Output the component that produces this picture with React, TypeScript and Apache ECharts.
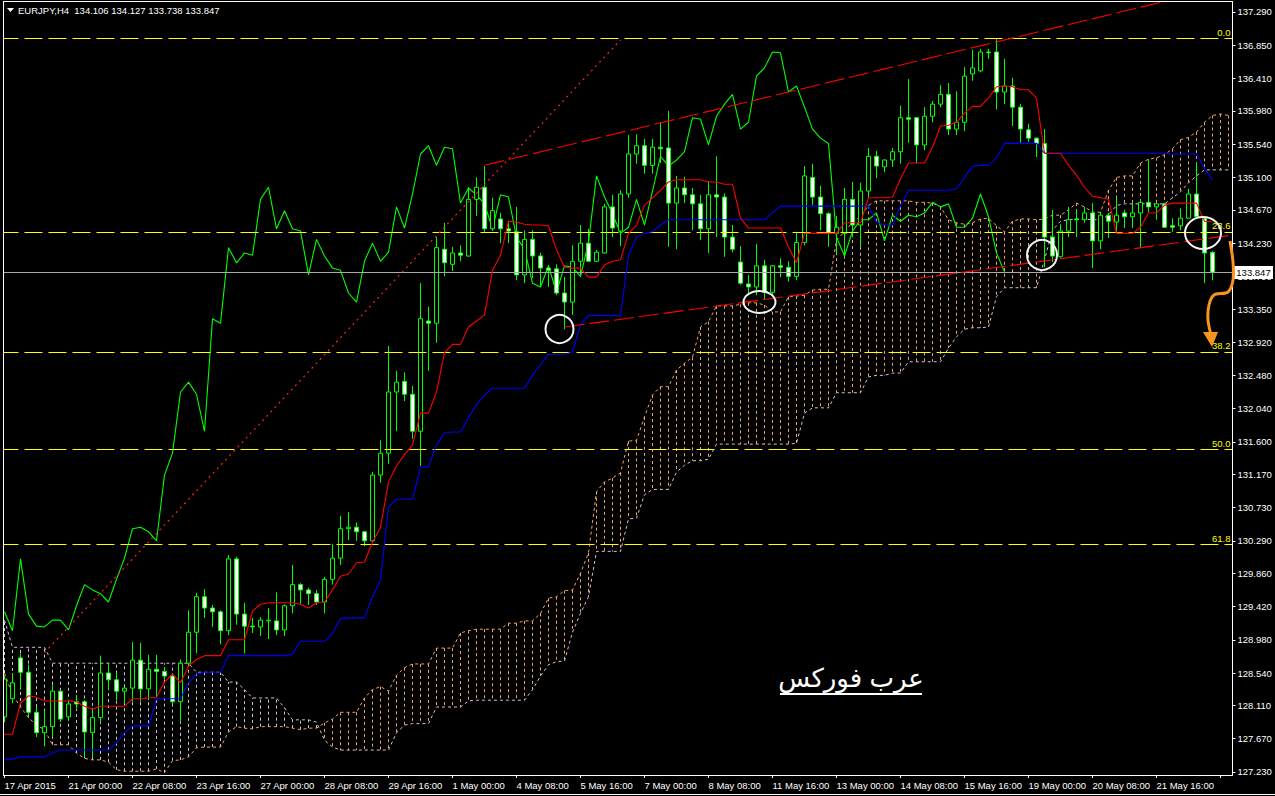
import React, { useEffect, useRef } from "react";
import * as echarts from "echarts";

const tickLabels = ["17 Apr 2015","21 Apr 00:00","22 Apr 08:00","23 Apr 16:00","27 Apr 00:00","28 Apr 08:00","29 Apr 16:00","1 May 00:00","4 May 08:00","5 May 16:00","7 May 00:00","8 May 08:00","11 May 16:00","13 May 00:00","14 May 08:00","15 May 16:00","19 May 00:00","20 May 08:00","21 May 16:00"];
const priceTicks = [137.29,136.85,136.41,135.98,135.54,135.10,134.67,134.23,133.79,133.35,132.92,132.48,132.04,131.60,131.17,130.73,130.29,129.86,129.42,128.98,128.54,128.11,127.67,127.23];

const opens = [127.96,128.20,128.74,128.55,128.02,127.75,127.83,128.30,127.96,128.16,128.16,127.75,127.95,128.54,128.45,128.30,128.34,128.71,128.33,128.59,128.56,128.50,128.16,128.67,129.08,129.55,129.40,129.35,129.10,130.05,129.32,129.16,129.15,129.23,129.23,129.11,129.43,129.71,129.64,129.59,129.48,129.78,130.06,130.45,130.47,130.41,130.29,131.16,131.45,132.26,132.40,132.23,131.74,133.20,133.17,134.15,133.95,134.10,134.06,134.81,134.97,134.42,134.55,134.42,134.38,133.81,134.28,134.06,133.90,133.89,133.57,133.45,133.99,134.23,133.99,134.10,134.71,134.39,134.88,135.41,135.52,135.26,135.50,135.49,134.76,134.96,134.87,134.75,134.42,134.87,134.84,134.31,133.98,133.69,133.65,133.93,133.58,133.93,133.91,133.79,134.24,135.10,134.84,134.62,134.36,134.36,134.81,134.47,134.92,135.38,135.24,135.33,135.44,135.89,135.89,135.53,135.91,136.07,136.20,135.74,135.83,136.47,136.51,136.76,136.76,136.23,136.31,136.03,135.73,135.62,135.55,134.31,134.05,134.39,134.55,134.54,134.63,134.26,134.60,134.51,134.63,134.58,134.63,134.77,134.71,134.75,134.46,134.46,134.56,134.88,134.56,134.106];
const closes = [128.46,128.41,128.55,128.02,127.75,127.83,128.30,127.93,128.13,128.13,127.76,127.95,128.54,128.45,128.30,128.34,128.71,128.33,128.59,128.56,128.50,128.16,128.67,129.08,129.55,129.40,129.35,129.10,130.05,129.32,129.16,129.15,129.24,129.24,129.11,129.43,129.71,129.64,129.59,129.48,129.78,130.06,130.45,130.47,130.41,130.29,131.16,131.45,132.26,132.39,132.23,131.74,133.23,133.17,134.17,133.97,134.10,134.07,134.81,134.97,134.42,134.66,134.42,134.39,133.81,134.28,134.06,133.90,133.87,133.57,133.45,133.99,134.23,133.99,134.11,134.71,134.43,134.88,135.41,135.52,135.26,135.50,135.48,134.76,134.96,134.87,134.75,134.42,134.87,134.84,134.31,134.15,133.70,133.65,133.93,133.58,133.93,133.91,133.79,134.24,135.12,134.84,134.62,134.36,134.44,134.81,134.47,134.92,135.38,135.25,135.33,135.44,135.89,135.87,135.53,135.91,136.07,136.20,135.74,135.83,136.44,136.55,136.76,136.75,136.23,136.31,136.03,135.74,135.62,135.55,134.31,134.06,134.39,134.54,134.54,134.63,134.26,134.60,134.52,134.60,134.58,134.63,134.77,134.71,134.75,134.44,134.44,134.56,134.88,134.58,134.10,133.847];
const lows = [127.89,128.14,128.32,127.96,127.69,127.57,127.69,127.89,127.92,128.05,127.43,127.43,127.88,128.32,128.18,128.14,128.16,128.16,128.18,128.22,128.45,128.12,127.89,128.65,128.80,129.27,129.15,128.92,129.04,129.18,128.80,129.07,129.03,128.99,129.04,129.03,129.33,129.45,129.44,129.44,129.33,129.71,129.97,130.30,130.29,130.22,130.27,131.06,131.31,131.74,132.14,131.64,131.28,132.54,132.91,133.79,133.86,133.99,134.05,134.59,134.38,134.39,134.23,134.23,133.74,133.70,133.77,133.65,133.65,133.54,133.09,133.28,133.78,133.98,133.98,134.09,134.31,134.19,134.83,135.28,135.15,135.15,135.29,134.18,134.15,134.76,134.40,134.27,134.10,134.31,134.05,134.11,133.68,133.54,133.54,133.48,133.52,133.78,133.72,133.74,134.20,134.73,134.40,134.18,134.09,134.05,134.31,134.18,134.83,135.09,135.17,135.24,135.28,135.56,135.29,135.46,135.83,136.03,135.66,135.66,135.71,136.38,136.49,136.67,136.00,136.07,135.78,135.56,135.57,135.37,133.91,133.98,134.04,134.31,134.31,134.50,133.90,134.15,134.30,134.36,134.43,134.43,134.17,134.64,134.54,134.43,134.38,134.40,134.56,134.56,133.70,133.738];
const highs = [128.51,128.54,128.80,128.65,128.09,128.05,128.39,128.31,128.18,128.25,128.18,128.08,128.77,128.67,128.55,128.36,128.95,128.94,128.78,128.78,128.62,128.54,128.72,129.37,129.60,129.65,129.44,129.37,130.10,130.08,129.47,129.27,129.28,129.40,129.61,129.45,129.97,129.73,129.67,129.64,129.81,130.25,130.62,130.67,130.53,130.42,131.20,131.62,132.87,132.54,132.52,132.34,133.70,133.39,134.31,134.50,134.18,134.20,134.97,135.10,135.25,134.83,134.63,134.51,134.71,134.40,134.40,134.10,133.94,133.95,133.78,134.20,134.47,134.42,134.14,134.75,134.87,134.93,135.66,135.67,135.61,135.61,135.83,135.98,135.12,135.11,134.96,134.87,135.05,135.38,134.89,134.47,134.19,133.81,134.22,134.01,133.94,134.03,133.99,134.38,135.25,135.28,134.99,134.64,134.59,134.96,135.04,135.03,135.49,135.45,135.34,135.49,136.05,136.40,135.90,136.03,136.11,136.32,136.35,136.24,136.56,136.79,136.80,136.80,136.93,136.67,136.42,136.07,135.81,135.63,135.74,134.67,134.48,134.71,134.67,134.71,134.76,134.63,134.63,134.84,134.67,134.76,134.80,135.33,134.77,134.76,134.56,134.69,134.95,135.30,134.58,134.127];

const tenkan = [127.73,127.73,128.14,128.24,128.22,128.17,128.17,128.17,128.17,128.16,128.10,128.06,128.10,128.10,128.10,128.10,128.20,128.20,128.21,128.22,128.42,128.53,128.41,128.63,128.72,128.77,128.77,128.77,128.98,128.98,128.98,129.36,129.45,129.47,129.47,129.47,129.47,129.45,129.40,129.47,129.48,129.64,129.82,129.85,130.00,130.01,130.27,130.47,131.07,131.28,131.43,131.56,131.98,131.98,132.26,132.78,132.89,132.89,133.12,133.20,133.28,133.87,134.07,134.52,134.51,134.48,134.47,134.47,134.46,134.14,133.91,133.90,133.90,133.78,133.78,133.94,133.99,134.01,134.36,134.47,134.73,134.83,134.93,135.04,135.07,135.07,135.07,135.07,135.04,135.04,135.01,135.01,134.56,134.43,134.43,134.43,134.43,134.43,134.18,133.97,134.36,134.36,134.36,134.36,134.36,134.50,134.50,134.50,134.83,134.83,134.83,134.84,135.08,135.29,135.29,135.29,135.50,135.78,135.79,135.83,135.95,136.04,136.04,136.15,136.30,136.31,136.30,136.26,136.26,136.15,135.42,135.42,135.42,135.26,135.13,134.97,134.85,134.83,134.81,134.36,134.36,134.36,134.44,134.63,134.63,134.73,134.76,134.76,134.76,134.76,134.52,134.51];
const kijun = [127.40,127.40,127.43,127.43,127.43,127.43,127.48,127.52,127.52,127.52,127.52,127.52,127.52,127.52,127.61,127.75,127.84,127.84,127.84,128.20,128.20,128.20,128.20,128.41,128.53,128.55,128.55,128.55,128.77,128.77,128.77,128.77,128.77,128.77,128.77,128.77,128.79,128.96,128.96,128.96,128.96,129.07,129.26,129.27,129.27,129.27,129.55,129.77,130.74,130.84,130.84,130.84,131.27,131.27,131.56,131.72,131.73,131.73,131.92,132.09,132.22,132.31,132.31,132.31,132.31,132.31,132.48,132.62,132.76,132.76,132.76,132.79,133.15,133.27,133.27,133.27,133.27,133.27,134.07,134.31,134.36,134.38,134.47,134.54,134.54,134.54,134.54,134.54,134.54,134.54,134.54,134.54,134.54,134.54,134.54,134.54,134.63,134.72,134.72,134.72,134.72,134.72,134.72,134.72,134.72,134.72,134.72,134.72,134.72,134.51,134.47,134.47,134.72,134.93,134.93,134.93,134.93,134.93,134.93,134.95,135.10,135.25,135.26,135.26,135.36,135.55,135.55,135.55,135.55,135.55,135.42,135.42,135.42,135.42,135.42,135.42,135.42,135.42,135.42,135.42,135.42,135.42,135.42,135.42,135.42,135.42,135.41,135.41,135.41,135.41,135.22,135.07];
const chikou = [129.35,129.10,130.05,129.32,129.16,129.15,129.24,129.24,129.11,129.43,129.71,129.64,129.59,129.48,129.78,130.06,130.45,130.47,130.41,130.29,131.16,131.45,132.26,132.39,132.23,131.74,133.23,133.17,134.17,133.97,134.10,134.07,134.81,134.97,134.42,134.66,134.42,134.39,133.81,134.28,134.06,133.90,133.87,133.57,133.45,133.99,134.23,133.99,134.11,134.71,134.43,134.88,135.41,135.52,135.26,135.50,135.48,134.76,134.96,134.87,134.75,134.42,134.87,134.84,134.31,134.15,133.70,133.65,133.93,133.58,133.93,133.91,133.79,134.24,135.12,134.84,134.62,134.36,134.44,134.81,134.47,134.92,135.38,135.25,135.33,135.44,135.89,135.87,135.53,135.91,136.07,136.20,135.74,135.83,136.44,136.55,136.76,136.75,136.23,136.31,136.03,135.74,135.62,135.55,134.31,134.06,134.39,134.54,134.54,134.63,134.26,134.60,134.52,134.60,134.58,134.63,134.77,134.71,134.75,134.44,134.44,134.56,134.88,134.58,134.10,133.85];
const spanA = [128.54,128.25,128.09,127.95,127.85,127.79,127.59,127.59,127.59,127.48,127.41,127.39,127.39,127.36,127.26,127.24,127.24,127.24,127.24,127.27,127.22,127.38,127.39,127.43,127.55,127.56,127.56,127.56,127.76,127.83,127.81,127.80,127.83,127.83,127.83,127.83,127.81,127.79,127.81,127.81,127.88,127.93,128.02,128.02,128.02,128.21,128.32,128.36,128.30,128.51,128.61,128.66,128.66,128.66,128.87,128.87,128.87,129.07,129.10,129.12,129.12,129.12,129.12,129.20,129.20,129.23,129.23,129.33,129.53,129.55,129.63,129.64,129.86,130.13,130.94,131.07,131.12,131.19,131.61,131.62,131.93,132.22,132.33,132.33,132.55,132.64,132.72,133.12,133.19,133.40,133.40,133.40,133.42,133.44,133.44,133.41,133.32,133.32,133.52,133.53,133.54,133.61,133.62,133.62,134.27,134.38,134.51,134.58,134.73,134.79,134.79,134.79,134.79,134.79,134.77,134.77,134.76,134.71,134.54,134.50,134.48,134.50,134.55,134.56,134.46,134.38,134.52,134.55,134.55,134.54,134.55,134.60,134.60,134.67,134.76,134.71,134.64,134.64,134.93,135.10,135.12,135.12,135.29,135.34,135.36,135.40,135.48,135.60,135.63,135.70,135.83,135.92,135.94,135.92];
const spanB = [129.24,128.88,128.88,128.88,128.88,128.88,128.67,128.67,128.67,128.67,128.67,128.67,128.67,128.67,128.67,128.67,128.67,128.67,128.67,128.67,128.67,128.67,128.67,128.67,128.55,128.55,128.55,128.55,128.42,128.42,128.32,128.21,128.21,128.21,128.21,128.08,127.92,127.92,127.92,127.89,127.65,127.56,127.52,127.52,127.52,127.52,127.52,127.52,127.52,127.75,127.85,127.87,127.87,127.87,128.09,128.09,128.09,128.09,128.17,128.18,128.18,128.18,128.18,128.18,128.18,128.18,128.32,128.50,128.65,128.69,128.70,129.08,129.33,129.55,130.15,130.15,130.15,130.15,130.58,130.59,130.90,130.97,130.97,130.97,131.20,131.29,131.35,131.35,131.37,131.57,131.57,131.57,131.57,131.57,131.57,131.57,131.57,131.57,131.57,131.58,131.98,132.05,132.05,132.05,132.25,132.25,132.25,132.25,132.46,132.48,132.48,132.51,132.51,132.66,132.66,132.66,132.66,132.66,132.84,132.99,133.09,133.11,133.11,133.12,133.52,133.64,133.64,133.64,133.64,133.64,134.01,134.40,134.52,134.54,134.55,134.55,134.54,134.54,134.60,134.73,134.75,134.75,134.75,134.75,134.75,134.75,134.83,134.91,135.03,135.12,135.20,135.20,135.20,135.20];

const channelUpper = [[60,135.26],[145,137.43]];
const channelLower = [[70,133.12],[153,134.33]];
const fibLine = [[5,128.81],[77,136.92]];
const fibLevels = [136.945,134.378,132.789,131.505,130.235];
const fibNames = ["0.0","23.6","38.2","50.0","61.8"];
const bidPrice = 133.847;
const headerText = "EURJPY,H4  134.106 134.127 133.738 133.847";
const watermark = "عرب فوركس";

const categories = spanA.map((_, i) => (i % 8 === 0 ? tickLabels[i / 8] ?? "" : String(i)));
const UI_FONT = "'Liberation Sans',Arial,sans-serif";
const UI_SIZE = 9.5;

export default function App() {
  const ref = useRef<HTMLDivElement>(null);
  useEffect(() => {
    document.body.style.margin = "0";
    document.body.style.background = "#000";
    const chart = echarts.init(ref.current!, null, { renderer: "svg" });
    const line = (name: string, data: any, color: string, extra: any = {}) => ({
      name, type: "line", data, symbol: "none", silent: true, animation: false,
      lineStyle: { color, width: extra.width ?? 1.1, ...(extra.dash ? { type: extra.dash } : {}) },
      z: extra.z ?? 5,
      ...(extra.markLine ? { markLine: extra.markLine } : {}),
    });
    chart.setOption({
      animation: false,
      backgroundColor: "#000",
      grid: { left: 0.5, width: 1232, top: 2, height: 773, containLabel: false },
      xAxis: {
        type: "category", data: categories, boundaryGap: true,
        axisLine: { show: true, lineStyle: { color: "#fff", width: 1 } },
        axisTick: { show: true, alignWithLabel: true, interval: 7, length: 3, lineStyle: { color: "#fff" } },
        axisLabel: { interval: 7, color: "#fff", align: "left", fontFamily: UI_FONT, fontSize: UI_SIZE, margin: 5, showMinLabel: true, hideOverlap: false },
        splitLine: { show: false },
      },
      yAxis: {
        type: "value", position: "right", min: 127.19, max: 137.422, scale: true,
        axisLine: { show: true, lineStyle: { color: "#fff", width: 1 } },
        axisTick: { show: true, length: 3, lineStyle: { color: "#fff" }, customValues: priceTicks },
        axisLabel: { color: "#fff", fontFamily: UI_FONT, fontSize: UI_SIZE, margin: 5, customValues: priceTicks, formatter: (v: number) => v.toFixed(3) },
        splitLine: { show: false },
      },
      series: [
        {
          name: "Kumo hatch", type: "custom", silent: true, z: 2, clip: true,
          data: spanA.map((a, i) => [i, a, spanB[i]]),
          encode: { x: 0, y: [1, 2] },
          renderItem: (_: any, api: any) => {
            const a = api.coord([api.value(0), api.value(1)]);
            const b = api.coord([api.value(0), api.value(2)]);
            return {
              type: "line",
              shape: { x1: a[0], y1: a[1], x2: b[0], y2: b[1] },
              style: { stroke: api.value(1) >= api.value(2) ? "#F4A460" : "#D8BFD8", lineWidth: 1, lineDash: [3, 3] },
            };
          },
        },
        line("Senkou A", spanA, "#F4A460", { dash: [3, 3], z: 2, width: 1 }),
        line("Senkou B", spanB, "#D8BFD8", { dash: [3, 3], z: 2, width: 1 }),
        {
          name: "EURJPY", type: "candlestick", silent: true, z: 4, barWidth: 5,
          data: opens.map((o, i) => [o, closes[i], lows[i], highs[i]]),
          itemStyle: { color: "#000", color0: "#fff", borderColor: "#00ff00", borderColor0: "#00ff00", borderWidth: 1 },
        },
        line("Chikou", chikou, "#00ff00", {
          z: 3,
          markLine: {
            silent: true, symbol: "none", animation: false,
            lineStyle: { color: "#ffff00", type: [18, 6], width: 1 },
            data: fibLevels.map((v, i) => ({
              yAxis: v,
              label: { show: true, position: "insideEndTop", formatter: fibNames[i], color: "#ffff00", fontFamily: UI_FONT, fontSize: UI_SIZE, distance: 1, offset: [-1, 0] },
            })),
          },
        }),
        line("Kijun", kijun, "#0000ff"),
        line("Tenkan", tenkan, "#ff0000", {
          markLine: {
            silent: true, symbol: "none", animation: false,
            lineStyle: { color: "#aaaaaa", type: "solid", width: 1 },
            data: [{ yAxis: bidPrice, label: { show: false } }],
          },
        }),
        line("Channel upper", channelUpper, "#ff0000", { dash: [20, 5] }),
        line("Channel lower", channelLower, "#ff0000", { dash: [20, 5] }),
        line("Fibo trend", fibLine, "#ff2020", { dash: [2, 4], width: 1.2 }),
      ],
      graphic: [
        { type: "rect", silent: true, z: 50, shape: { x: 0, y: 0, width: 3, height: 796 }, style: { fill: "#000" } },
        { type: "line", silent: true, z: 51, shape: { x1: 3.5, y1: 1, x2: 3.5, y2: 775 }, style: { stroke: "#fff", lineWidth: 1 } },
        { type: "line", silent: true, z: 51, shape: { x1: 3, y1: 1.5, x2: 1233, y2: 1.5 }, style: { stroke: "#fff", lineWidth: 1 } },
        { type: "line", silent: true, z: 51, shape: { x1: 0, y1: 794.5, x2: 1275, y2: 794.5 }, style: { stroke: "#fff", lineWidth: 1 } },
        { type: "polygon", silent: true, z: 51, shape: { points: [[7, 8], [14, 8], [10.5, 12]] }, style: { fill: "#fff" } },
        { type: "text", silent: true, z: 51, x: 18, y: 10, style: { text: headerText, fill: "#fff", font: `${UI_SIZE}px ${UI_FONT}`, verticalAlign: "middle" } },
        { type: "rect", silent: true, z: 51, shape: { x: 1234, y: 266, width: 39, height: 13 }, style: { fill: "#fff" } },
        { type: "text", silent: true, z: 52, x: 1253.5, y: 272.5, style: { text: bidPrice.toFixed(3), fill: "#000", font: `${UI_SIZE}px ${UI_FONT}`, align: "center", verticalAlign: "middle" } },
        { type: "circle", silent: true, z: 52, shape: { cx: 559.5, cy: 329, r: 14 }, style: { fill: "none", stroke: "#f4f4f4", lineWidth: 2 } },
        { type: "ellipse", silent: true, z: 52, shape: { cx: 759.5, cy: 302, rx: 16, ry: 11 }, style: { fill: "none", stroke: "#f4f4f4", lineWidth: 2 } },
        { type: "circle", silent: true, z: 52, shape: { cx: 1042, cy: 255, r: 15 }, style: { fill: "none", stroke: "#f4f4f4", lineWidth: 2 } },
        { type: "ellipse", silent: true, z: 52, shape: { cx: 1203, cy: 233, rx: 18, ry: 16 }, style: { fill: "none", stroke: "#f4f4f4", lineWidth: 2 } },
        { type: "polyline", silent: true, z: 52, shape: { points: [[1230, 241], [1233, 262], [1233, 280], [1228, 292], [1214, 295], [1209, 305], [1208, 320], [1211, 335]], smooth: 0.3 }, style: { fill: "none", stroke: "#F7931E", lineWidth: 3 } },
        { type: "polygon", silent: true, z: 52, shape: { points: [[1203, 332], [1218, 332], [1212, 347]] }, style: { fill: "#F7931E" } },
        { type: "text", silent: true, z: 52, x: 851, y: 678, style: { text: watermark, fill: "#fff", font: "26px 'Liberation Sans','DejaVu Sans',sans-serif", align: "center", verticalAlign: "middle" } },
        { type: "line", silent: true, z: 52, shape: { x1: 780, y1: 694, x2: 922, y2: 694 }, style: { stroke: "#fff", lineWidth: 2 } },
      ],
    });
    return () => chart.dispose();
  }, []);
  return <div ref={ref} style={{ position: "absolute", left: 0, top: 0, width: 1275, height: 796 }} />;
}
